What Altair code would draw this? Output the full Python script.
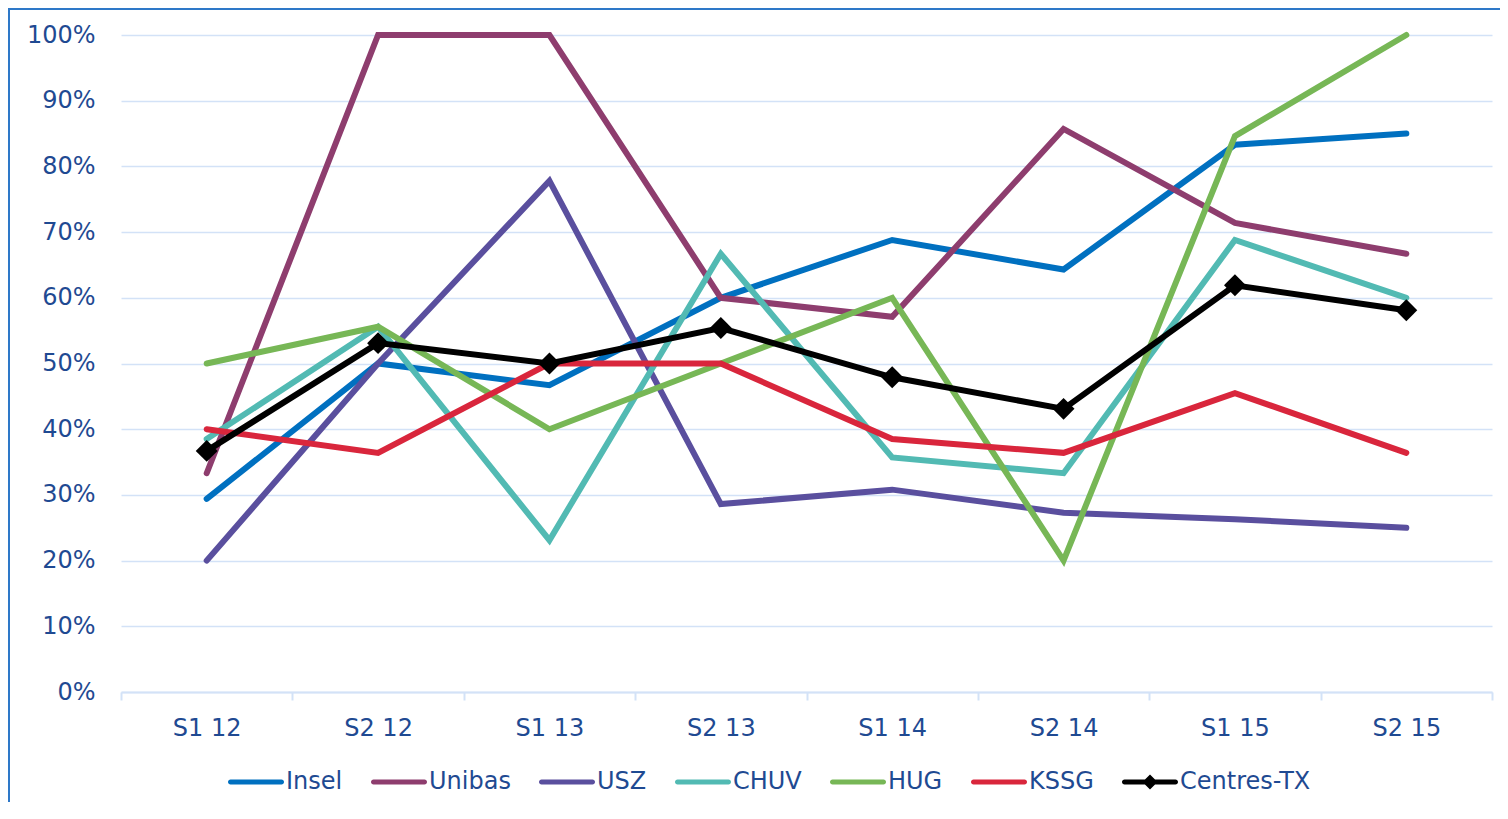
import altair as alt
import pandas as pd

periods = ["S1 12", "S2 12", "S1 13", "S2 13", "S1 14", "S2 14", "S1 15", "S2 15"]
series_names = ["Insel", "Unibas", "USZ", "CHUV", "HUG", "KSSG", "Centres-TX"]
series_colors = ["#0070C0", "#8E3D6E", "#5A4F9E", "#52BAB3", "#77B756", "#D9263C", "#000000"]

insel = [29.4, 50.0, 46.7, 60.0, 68.8, 64.3, 83.3, 85.0]
unibas = [33.3, 100.0, 100.0, 60.0, 57.1, 85.7, 71.4, 66.7]
usz = [20.0, 50.0, 77.8, 28.6, 30.8, 27.3, 26.3, 25.0]
chuv = [38.5, 55.6, 23.1, 66.7, 35.7, 33.3, 68.8, 60.0]
hug = [50.0, 55.6, 40.0, 50.0, 60.0, 20.0, 84.6, 100.0]
kssg = [40.0, 36.4, 50.0, 50.0, 38.5, 36.4, 45.5, 36.4]
centres_tx = [36.7, 53.1, 50.0, 55.4, 47.9, 43.1, 61.9, 58.1]

y_ticks = [0, 10, 20, 30, 40, 50, 60, 70, 80, 90, 100]

all_values = [insel, unibas, usz, chuv, hug, kssg, centres_tx]
rows = []
for name, vals in zip(series_names, all_values):
    for p, v in zip(periods, vals):
        rows.append({"period": p, "series": name, "value": v})
df = pd.DataFrame(rows)

TEXT = "#1F4A92"
GRID = "#D3E2F7"
FONT = "DejaVu Sans"

line_path = "M-0.91,-0.09H0.91A0.09,0.09 0 0 1 0.91,0.09H-0.91A0.09,0.09 0 0 1 -0.91,-0.09Z"
diamond_path = line_path + " M0,-0.27L0.27,0L0,0.27L-0.27,0Z"
legend_shapes = [line_path] * 6 + [diamond_path]

x_enc = alt.X(
    "period:N",
    sort=periods,
    scale=alt.Scale(type="band", paddingInner=0, paddingOuter=0),
    axis=alt.Axis(
        title=None,
        labelAngle=0,
        tickBand="extent",
        grid=False,
        domainColor=GRID,
        domainWidth=2,
        tickColor=GRID,
        tickWidth=2,
        tickSize=8,
        labelPadding=16,
        labelFont=FONT,
        labelFontSize=24,
        labelColor=TEXT,
    ),
)
y_enc = alt.Y(
    "value:Q",
    scale=alt.Scale(domain=[0, 100], nice=False),
    axis=alt.Axis(
        title=None,
        values=y_ticks,
        labelExpr="datum.value + '%'",
        domain=False,
        ticks=False,
        grid=True,
        gridColor=GRID,
        gridWidth=1.5,
        labelPadding=26,
        labelFont=FONT,
        labelFontSize=24,
        labelColor=TEXT,
    ),
)

base = alt.Chart(df)

lines = base.transform_filter("datum.series != 'Centres-TX'").mark_line(
    strokeWidth=6, strokeCap="round"
).encode(
    x=x_enc,
    y=y_enc,
    stroke=alt.Stroke(
        "series:N",
        scale=alt.Scale(domain=series_names[:6], range=series_colors[:6]),
        legend=None,
    ),
)

centres_line = base.transform_filter("datum.series == 'Centres-TX'").mark_line(
    strokeWidth=6, strokeCap="round", color="#000000"
).encode(x=x_enc, y=y_enc)

centres_pts = base.transform_filter("datum.series == 'Centres-TX'").mark_point(
    filled=True, shape="diamond", size=480, opacity=1, color="#000000"
).encode(x=x_enc, y=y_enc)

legend_kw = dict(
    title=None,
    orient="none",
    legendX=107,
    legendY=719,
    direction="horizontal",
    columns=7,
    columnPadding=28,
    labelOffset=2,
    labelFont=FONT,
    labelFontSize=24,
    labelColor=TEXT,
    symbolSize=3136,
    symbolStrokeWidth=0,
    symbolOpacity=1,
    padding=0,
)

legend_layer = base.mark_point(filled=True, opacity=0).encode(
    x=x_enc,
    y=y_enc,
    color=alt.Color(
        "series:N",
        scale=alt.Scale(domain=series_names, range=series_colors),
        legend=alt.Legend(**legend_kw),
    ),
    shape=alt.Shape(
        "series:N",
        scale=alt.Scale(domain=series_names, range=legend_shapes),
        legend=alt.Legend(**legend_kw),
    ),
)

frame = alt.Chart(pd.DataFrame({"k": [0]})).mark_rect(
    fillOpacity=0, stroke="#2E78C8", strokeWidth=2, clip=False
).encode(
    x=alt.value(-112),
    x2=alt.value(1400),
    y=alt.value(-26),
    y2=alt.value(900),
)

chart = alt.layer(frame, legend_layer, lines, centres_line, centres_pts).properties(
    width=1371,
    height=657,
    padding={"left": 113, "top": 27, "right": 8, "bottom": 110},
    autosize=alt.AutoSizeParams(type="none"),
).configure_view(strokeWidth=0)

chart.save("out.html", embed_options={"renderer": "svg", "actions": False})
